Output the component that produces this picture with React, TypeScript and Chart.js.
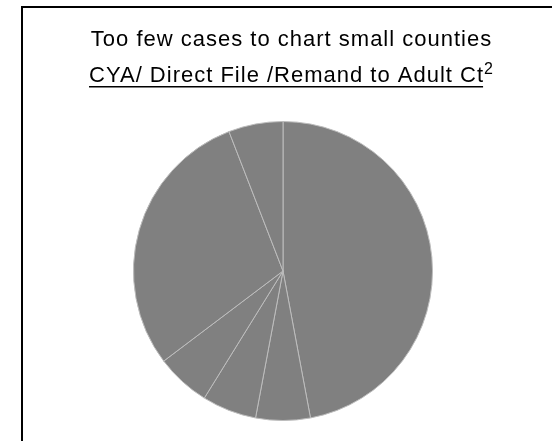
import React, { useEffect, useRef } from "react";
import { Chart, registerables } from "chart.js";

Chart.register(...registerables);

const titleLine1 = "Too few cases to chart small counties";
const titleLine2 = "CYA/ Direct File /Remand to Adult Ct";
const titleSup = "2";

const categories = ["Category 1", "Category 2", "Category 3", "Category 4", "Category 5", "Category 6"];
const caseCounts = [8, 1, 1, 1, 5, 1];
const sliceColors = ["#808080", "#808080", "#808080", "#808080", "#808080", "#808080"];

const FONT = '"Liberation Sans", Arial, sans-serif';

const framePlugin = {
  id: "frameAndTitle",
  beforeDraw(chart: any) {
    const ctx = chart.ctx as CanvasRenderingContext2D;
    const w = chart.width;
    const h = chart.height;
    ctx.save();
    ctx.fillStyle = "#ffffff";
    ctx.fillRect(0, 0, w, h);
    ctx.fillStyle = "#000000";
    ctx.fillRect(21, 6, w - 21, 2);
    ctx.fillRect(21, 6, 2, h - 6);
    ctx.restore();
  },
  afterDraw(chart: any) {
    const ctx = chart.ctx as CanvasRenderingContext2D;
    const cx = 291.5;
    ctx.save();
    ctx.fillStyle = "#000000";
    ctx.textAlign = "left";
    ctx.textBaseline = "alphabetic";
    (ctx as any).letterSpacing = "1px";
    ctx.font = `22px ${FONT}`;
    const w1 = ctx.measureText(titleLine1).width;
    ctx.fillText(titleLine1, cx - w1 / 2, 46);

    const w2 = ctx.measureText(titleLine2).width;
    ctx.font = `16px ${FONT}`;
    const ws = ctx.measureText(titleSup).width;
    const total = w2 + ws;
    const x2 = cx - total / 2;
    ctx.font = `22px ${FONT}`;
    ctx.fillText(titleLine2, x2, 82);
    ctx.fillRect(x2, 86, w2 - 1, 1.5);
    ctx.font = `16px ${FONT}`;
    ctx.fillText(titleSup, x2 + w2, 74);
    ctx.restore();
  },
};

export default function App() {
  const canvasRef = useRef<HTMLCanvasElement | null>(null);

  useEffect(() => {
    if (!canvasRef.current) return;
    const chart = new Chart(canvasRef.current, {
      type: "pie",
      data: {
        labels: categories,
        datasets: [
          {
            data: caseCounts,
            backgroundColor: sliceColors,
            borderColor: "#bdbdbd",
            borderWidth: 1,
          },
        ],
      },
      options: {
        animation: false,
        responsive: true,
        maintainAspectRatio: false,
        layout: { padding: { left: 133, right: 119, top: 121, bottom: 20 } },
        plugins: {
          legend: { display: false },
          tooltip: { enabled: false },
          title: { display: false },
        },
      },
      plugins: [framePlugin],
    });
    return () => chart.destroy();
  }, []);

  return (
    <div style={{ position: "absolute", left: 0, top: 0, width: 552, height: 441 }}>
      <canvas ref={canvasRef} />
    </div>
  );
}
